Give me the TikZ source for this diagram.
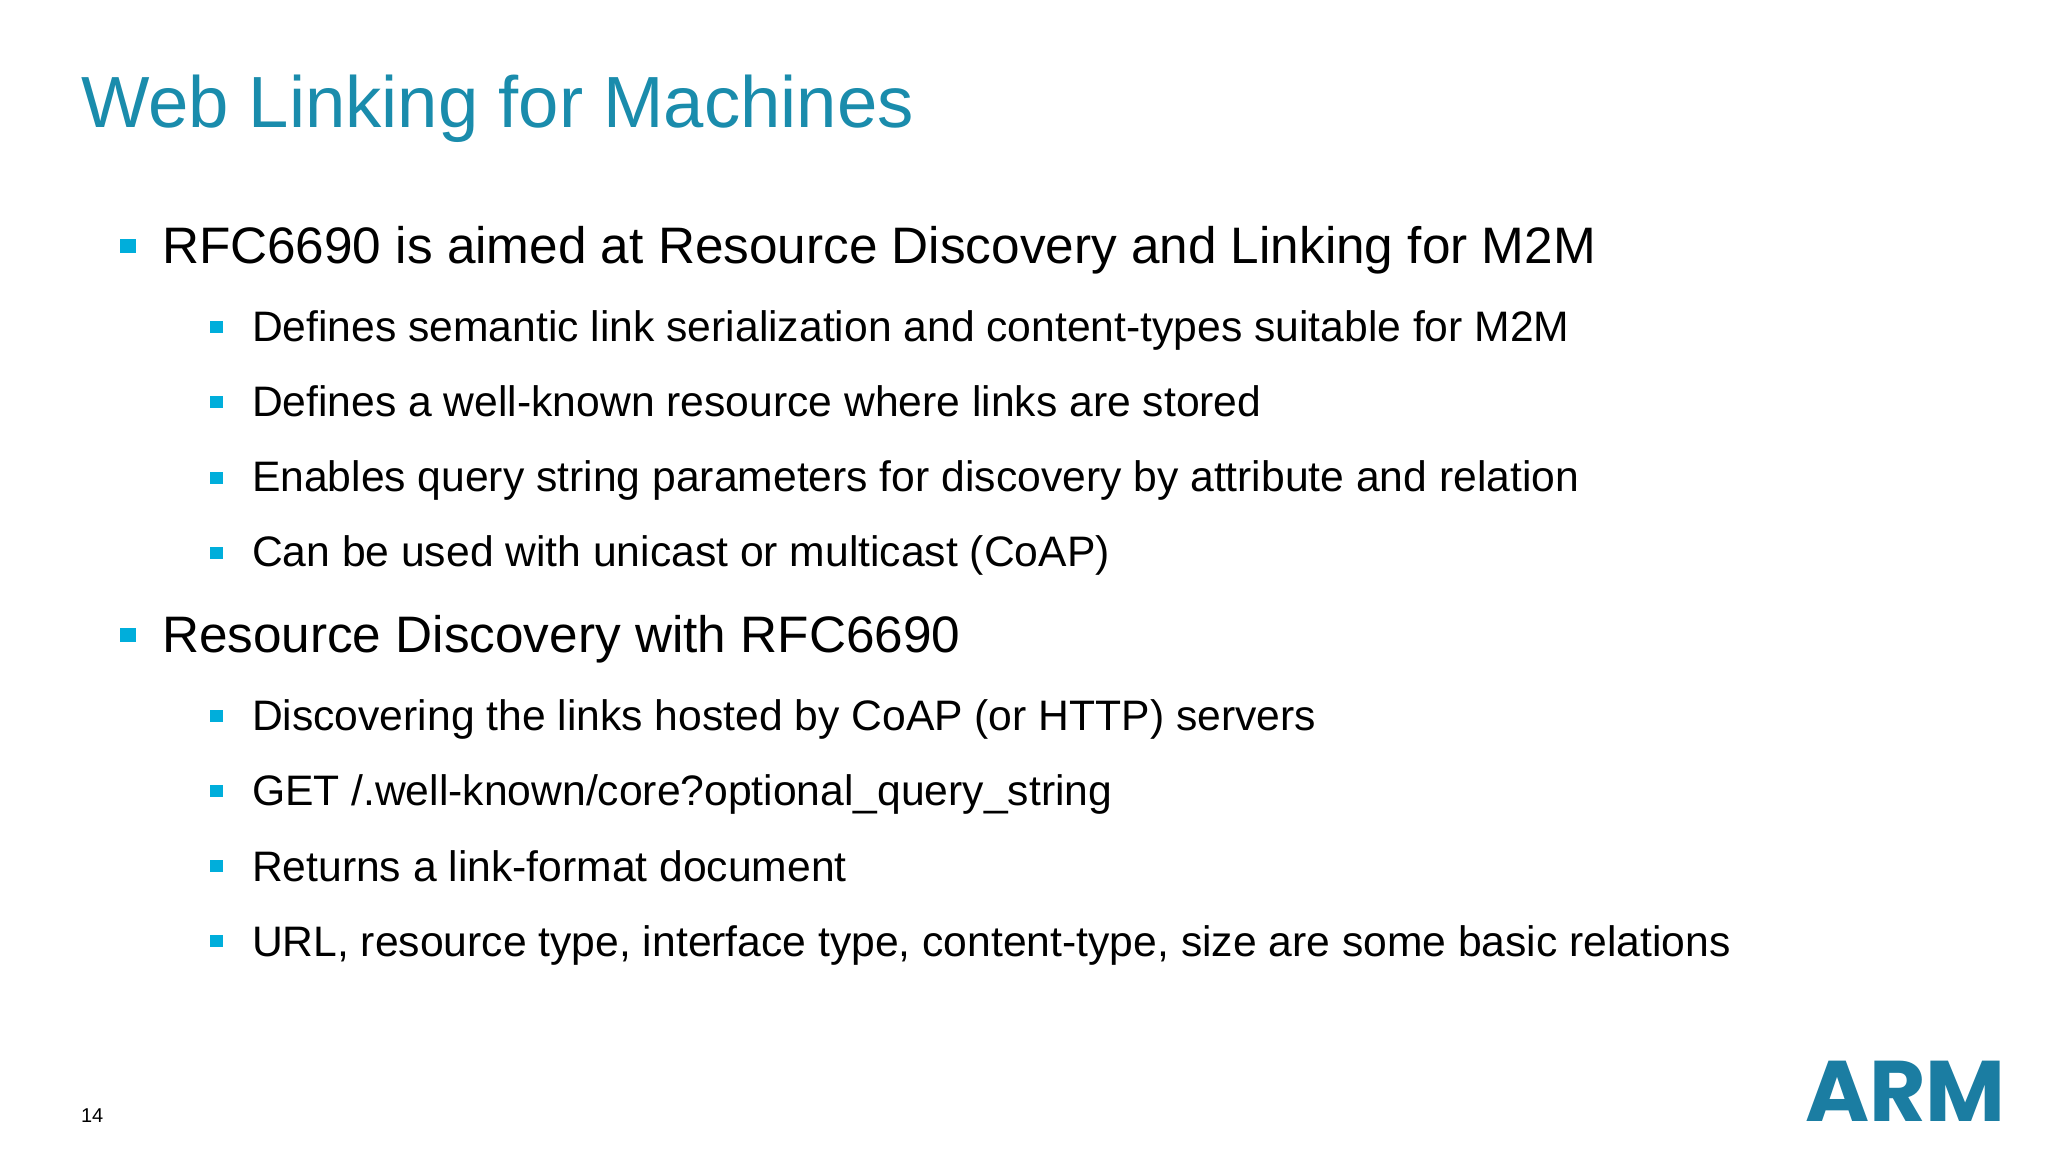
\documentclass[tikz,border=0pt]{standalone}
\usepackage{fontspec}
\setmainfont{Liberation Sans}
\newfontfamily\logofont[Scale=1]{Poppins Bold}
\usetikzlibrary{positioning}
\definecolor{titleblue}{HTML}{1A8CAC}
\definecolor{bulletblue}{HTML}{00AEDB}
\definecolor{logoblue}{HTML}{1B7DA2}
\tikzset{%
  line/.style={anchor=base west, inner sep=0pt, outer sep=0pt, text=black},
  heading/.style={line, font=\fontsize{36.25}{40}\selectfont, text=titleblue},
  first/.style={line, font=\fontsize{25.65}{28}\selectfont},
  second/.style={line, font=\fontsize{21.32}{24}\selectfont},
  bulletbig/.style={fill=bulletblue, inner sep=0pt, minimum width=8pt, minimum height=7pt},
  bulletsmall/.style={fill=bulletblue, inner sep=0pt, minimum width=6.5pt, minimum height=6pt}
}
\begin{document}
\begin{tikzpicture}[x=0.5pt, y=-0.5pt]
  \useasboundingbox[fill=white] (0,0) rectangle (2048,1152);
  \node[heading] (title) at (81,127) {Web Linking for Machines};
  % first block
  \node[first] (rfc) at (162,263) {RFC6690 is aimed at Resource Discovery and Linking for M2M};
  \node[second] (serial) at (252,341) {Defines semantic link serialization and content-types suitable for M2M};
  \node[second] (known) at (252,416) {Defines a well-known resource where links are stored};
  \node[second] (query) at (252,491) {Enables query string parameters for discovery by attribute and relation};
  \node[second] (unicast) at (252,566) {Can be used with unicast or multicast (CoAP)};
  % second block
  \node[first] (disc) at (162,652) {Resource Discovery with RFC6690};
  \node[second] (hosted) at (252,730) {Discovering the links hosted by CoAP (or HTTP) servers};
  \node[second] (get) at (252,805) {GET /.well-known/core?optional\_query\_string};
  \node[second] (format) at (252,881) {Returns a link-format document};
  \node[second] (url) at (252,956) {URL, resource type, interface type, content-type, size are some basic relations};
  % bullets
  \foreach \name/\ypos in {rfc/246, disc/635}
    \node[bulletbig] (bullet-\name) at (128,\ypos) {};
  \foreach \name/\ypos in {serial/327, known/402, query/478, unicast/553, hosted/716, get/791, format/866, url/941}
    \node[bulletsmall] (bullet-\name) at (216.5,\ypos) {};
  \node[line, font=\fontsize{10}{12}\selectfont] (page) at (81,1122) {14};
  \node[line, font=\logofont\fontsize{43}{46}\selectfont, text=logoblue, xscale=1.012] (logo) at (1805,1121) {ARM};
\end{tikzpicture}
\end{document}
